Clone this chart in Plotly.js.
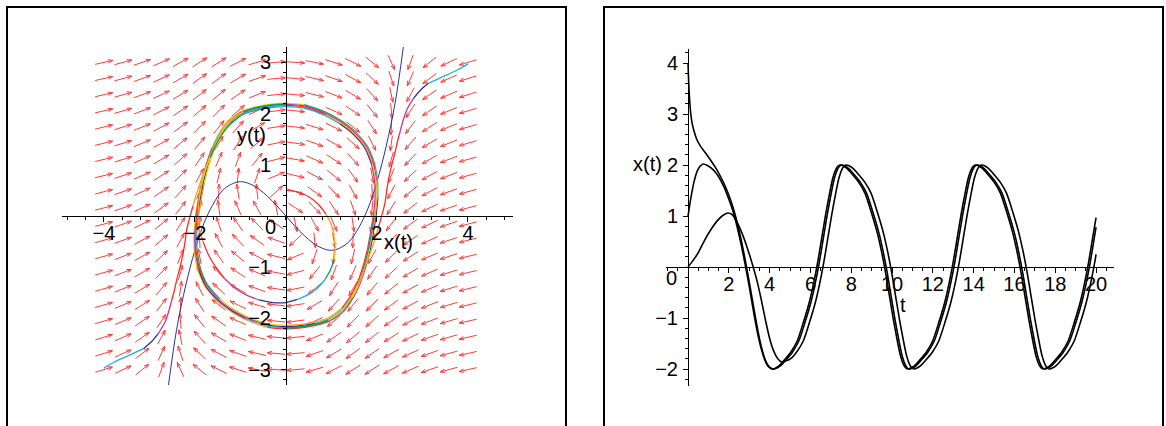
<!DOCTYPE html>
<html><head><meta charset="utf-8">
<script src="https://cdn.plot.ly/plotly-3.0.1.min.js"></script>
<style>html,body{margin:0;padding:0;background:#fff}#chart{width:1166px;height:426px}</style>
</head><body><div id="chart"></div>
<script>
// ---------------- data ----------------
// direction field grid (left panel)
const fieldX = [-4,-3.579,-3.158,-2.737,-2.316,-1.895,-1.474,-1.053,-0.632,-0.211,0.211,0.632,1.053,1.474,1.895,2.316,2.737,3.158,3.579,4];
const fieldY = [3,2.684,2.368,2.053,1.737,1.421,1.105,0.789,0.474,0.158,-0.158,-0.474,-0.789,-1.105,-1.421,-1.737,-2.053,-2.368,-2.684,-3];
// arrow direction (degrees, in grid-cell units), rows = fieldY, columns = fieldX
const fieldAngle = [
[15,18,22,27,33,37,37,31,19,6,355,347,339,330,316,291,253,224,209,200],
[15,18,23,28,34,40,41,35,22,6,354,345,337,328,312,286,249,222,208,200],
[15,19,23,29,36,43,45,39,25,7,354,344,335,325,308,280,245,220,207,200],
[15,19,24,31,39,46,50,45,29,9,353,342,333,321,304,274,241,219,206,199],
[16,20,25,32,41,50,56,53,35,10,352,340,330,317,298,268,237,217,206,199],
[16,20,26,33,44,55,63,62,44,13,350,337,326,313,293,263,234,215,205,199],
[16,20,27,35,47,60,70,73,56,17,348,333,322,308,286,257,231,214,204,198],
[16,21,27,37,50,65,79,85,74,26,344,328,316,301,279,251,228,213,204,198],
[17,21,28,39,53,71,88,98,95,47,338,320,309,294,272,246,225,212,203,198],
[17,22,29,41,57,78,97,110,115,100,322,310,300,286,265,242,223,210,202,197],
[17,22,30,43,62,85,106,120,130,142,280,295,290,277,258,237,221,209,202,197],
[18,23,32,45,66,92,114,129,140,158,227,275,278,268,251,233,219,208,201,197],
[18,24,33,48,71,99,121,136,148,164,206,254,265,259,245,230,217,207,201,196],
[18,24,34,51,77,106,128,142,153,168,197,236,253,250,240,227,215,207,200,196],
[19,25,35,54,83,113,133,146,157,170,193,224,242,243,235,224,213,206,200,196],
[19,26,37,57,88,118,137,150,160,172,190,215,233,236,230,221,212,205,200,196],
[19,26,39,61,94,124,141,153,162,173,189,209,225,230,226,219,211,204,199,195],
[20,27,40,65,100,128,145,155,164,174,187,205,219,225,223,216,209,203,199,195],
[20,28,42,69,106,132,148,157,165,174,186,202,215,221,220,214,208,203,198,195],
[20,29,44,73,111,136,150,159,167,175,186,199,211,217,217,213,207,202,198,195]
];
// limit cycle (phase plane)
const cycleX = [-1.95,-1.89,-1.82,-1.72,-1.60,-1.45,-1.25,-0.95,-0.66,-0.33,0.00,0.40,0.88,1.20,1.47,1.76,1.91,1.98,1.99,1.95,1.89,1.82,1.72,1.60,1.45,1.25,0.95,0.66,0.33,0.00,-0.40,-0.88,-1.20,-1.47,-1.76,-1.91,-1.98,-1.99,-1.95];
const cycleY = [0.00,0.33,0.66,1.00,1.31,1.58,1.83,2.02,2.10,2.15,2.17,2.14,1.99,1.83,1.65,1.35,1.03,0.70,0.35,0.00,-0.33,-0.66,-1.00,-1.31,-1.58,-1.83,-2.02,-2.10,-2.15,-2.17,-2.14,-1.99,-1.83,-1.65,-1.35,-1.03,-0.70,-0.35,0.00];
// trajectory from (4,3)
const trajAX = [4.00,3.79,3.45,3.13,2.95,2.80,2.66,2.58,2.51,2.45,2.40,2.34,2.29,2.25,2.22,2.18,2.12,2.04,1.94,1.82,1.70,1.57,1.42,1.22,0.93,0.64,0.32,0.00];
const trajAY = [2.97,2.86,2.72,2.59,2.45,2.29,2.08,1.88,1.65,1.45,1.25,1.05,0.86,0.68,0.53,0.27,0.05,-0.20,-0.50,-0.80,-1.08,-1.36,-1.62,-1.86,-2.04,-2.12,-2.17,-2.19];
// trajectory from (-4,-3)
const trajBX = [-4.00,-3.79,-3.45,-3.13,-2.95,-2.80,-2.66,-2.58,-2.51,-2.45,-2.40,-2.34,-2.29,-2.25,-2.22,-2.18,-2.12,-2.04,-1.94,-1.82,-1.70,-1.57,-1.42,-1.22,-0.93,-0.64,-0.32,0.00];
const trajBY = [-2.97,-2.86,-2.72,-2.59,-2.45,-2.29,-2.08,-1.88,-1.65,-1.45,-1.25,-1.05,-0.86,-0.68,-0.53,-0.27,-0.05,0.20,0.50,0.80,1.08,1.36,1.62,1.86,2.04,2.12,2.17,2.19];
// inner trajectory from (0,0.5)
const trajCX = [0.00,0.26,0.51,0.72,0.88,0.99,1.06,1.09,1.06,0.98,0.86,0.70,0.50,0.25,0.00,-0.30,-0.59,-0.85,-1.10,-1.35,-1.54,-1.70,-1.82,-1.90,-1.93,-1.91,-1.86,-1.78,-1.66,-1.50,-1.30,-1.00,-0.66,-0.33,0.00];
const trajCY = [0.50,0.47,0.37,0.22,0.04,-0.15,-0.37,-0.60,-0.85,-1.05,-1.24,-1.40,-1.53,-1.63,-1.69,-1.69,-1.64,-1.55,-1.42,-1.22,-1.00,-0.76,-0.50,-0.25,0.00,0.30,0.58,0.86,1.15,1.45,1.72,1.96,2.08,2.14,2.16];
// blue curve
const curveX = [-2.58,-2.4,-2.2,-2.0,-1.8,-1.6,-1.4,-1.2,-1.0,-0.8,-0.6,-0.4,-0.2,0,0.2,0.4,0.6,0.8,1.0,1.2,1.4,1.6,1.8,2.0,2.2,2.4,2.58];
const curveY = [-3.3,-2.21,-1.35,-0.67,-0.14,0.23,0.49,0.62,0.67,0.63,0.53,0.38,0.2,0,-0.2,-0.38,-0.53,-0.63,-0.67,-0.62,-0.49,-0.23,0.14,0.67,1.35,2.21,3.3];

// time series (right panel)
const tA = [0,0.15,0.3,0.45,0.6,0.75,0.95,1.25,1.5,1.75,2.0,2.2,2.4,2.6,2.8,3.0,3.2,3.4,3.6,3.8,3.95,4.15,
4.45,4.75,5.05,5.35,5.65,5.95,6.15,6.35,6.55,6.75,6.95,7.1,7.25,7.35,7.47,
7.77,8.07,8.37,8.67,8.97,9.27,9.47,9.67,9.87,10.07,10.27,10.42,10.57,10.67,10.79,
11.09,11.39,11.69,11.99,12.29,12.59,12.79,12.99,13.19,13.39,13.59,13.74,13.89,13.99,14.11,
14.41,14.71,15.01,15.31,15.61,15.91,16.11,16.31,16.51,16.71,16.91,17.06,17.21,17.31,17.43,
17.73,18.03,18.33,18.63,18.93,19.23,19.43,19.63,19.83,20.0];
const xA = [1.0,1.38,1.68,1.88,1.98,2.02,1.99,1.9,1.77,1.58,1.33,1.1,0.8,0.45,0.05,-0.38,-0.85,-1.28,-1.62,-1.86,-1.96,-2.0,
-1.94,-1.81,-1.66,-1.45,-1.09,-0.68,-0.33,0.08,0.56,1.04,1.47,1.75,1.92,1.98,2.0,
1.94,1.81,1.66,1.45,1.09,0.68,0.33,-0.08,-0.56,-1.04,-1.47,-1.75,-1.92,-1.98,-2.0,
-1.94,-1.81,-1.66,-1.45,-1.09,-0.68,-0.33,0.08,0.56,1.04,1.47,1.75,1.92,1.98,2.0,
1.94,1.81,1.66,1.45,1.09,0.68,0.33,-0.08,-0.56,-1.04,-1.47,-1.75,-1.92,-1.98,-2.0,
-1.94,-1.81,-1.66,-1.45,-1.09,-0.68,-0.33,0.08,0.56,0.97];
const tB = [0,0.02,0.045,0.09,0.135,0.2,0.27,0.43,0.64,0.85,1.1,1.35,1.6,1.85,2.1,2.3,2.5,2.7,2.9,3.1,3.3,3.5,3.7,3.88,4.05,4.23,
4.53,4.83,5.13,5.43,5.73,6.03,6.23,6.43,6.63,6.83,7.03,7.18,7.33,7.43,7.55,
7.85,8.15,8.45,8.75,9.05,9.35,9.55,9.75,9.95,10.15,10.35,10.5,10.65,10.75,10.87,
11.17,11.47,11.77,12.07,12.37,12.67,12.87,13.07,13.27,13.47,13.67,13.82,13.97,14.07,14.19,
14.49,14.79,15.09,15.39,15.69,15.99,16.19,16.39,16.59,16.79,16.99,17.14,17.29,17.39,17.51,
17.81,18.11,18.41,18.71,19.01,19.31,19.51,19.71,19.91,20.0];
const xB = [4.0,3.75,3.5,3.2,3.0,2.82,2.7,2.5,2.35,2.24,2.1,1.95,1.77,1.56,1.3,1.04,0.72,0.35,-0.07,-0.52,-0.98,-1.4,-1.72,-1.9,-1.98,-2.0,
-1.94,-1.81,-1.66,-1.45,-1.09,-0.68,-0.33,0.08,0.56,1.04,1.47,1.75,1.92,1.98,2.0,
1.94,1.81,1.66,1.45,1.09,0.68,0.33,-0.08,-0.56,-1.04,-1.47,-1.75,-1.92,-1.98,-2.0,
-1.94,-1.81,-1.66,-1.45,-1.09,-0.68,-0.33,0.08,0.56,1.04,1.47,1.75,1.92,1.98,2.0,
1.94,1.81,1.66,1.45,1.09,0.68,0.33,-0.08,-0.56,-1.04,-1.47,-1.75,-1.92,-1.98,-2.0,
-1.94,-1.81,-1.66,-1.45,-1.09,-0.68,-0.33,0.08,0.56,0.78];
const tC = [0,0.25,0.5,0.78,1.1,1.42,1.7,1.95,2.15,2.4,2.65,2.9,3.15,3.4,3.6,3.8,4.0,4.2,4.4,4.58,4.8,
5.05,5.35,5.65,5.95,6.25,6.45,6.65,6.85,7.05,7.25,7.4,7.55,7.65,7.77,
8.07,8.37,8.67,8.97,9.27,9.57,9.77,9.97,10.17,10.37,10.57,10.72,10.87,10.97,11.09,
11.39,11.69,11.99,12.29,12.59,12.89,13.09,13.29,13.49,13.69,13.89,14.04,14.19,14.29,14.41,
14.71,15.01,15.31,15.61,15.91,16.21,16.41,16.61,16.81,17.01,17.21,17.36,17.51,17.61,17.73,
18.03,18.33,18.63,18.93,19.23,19.53,19.73,19.93,20.0];
const xC = [0,0.13,0.28,0.5,0.72,0.9,1.01,1.06,1.03,0.88,0.66,0.38,0.06,-0.3,-0.66,-1.05,-1.4,-1.65,-1.8,-1.86,-1.84,
-1.79,-1.65,-1.45,-1.09,-0.68,-0.33,0.08,0.56,1.04,1.47,1.75,1.92,1.98,2.0,
1.94,1.81,1.66,1.45,1.09,0.68,0.33,-0.08,-0.56,-1.04,-1.47,-1.75,-1.92,-1.98,-2.0,
-1.94,-1.81,-1.66,-1.45,-1.09,-0.68,-0.33,0.08,0.56,1.04,1.47,1.75,1.92,1.98,2.0,
1.94,1.81,1.66,1.45,1.09,0.68,0.33,-0.08,-0.56,-1.04,-1.47,-1.75,-1.92,-1.98,-2.0,
-1.94,-1.81,-1.66,-1.45,-1.09,-0.68,-0.33,0.08,0.25];

// tick labels
const leftXTicks = [-4,-2,2,4];
const leftXText = ['\u22124','\u22122','2','4'];
const leftYTicks = [-3,-2,-1,1,2,3];
const leftYText = ['\u22123','\u22122','\u22121','1','2','3'];
const rightXTicks = [2,4,6,8,10,12,14,16,18,20];
const rightXText = ['2','4','6','8','10','12','14','16','18','20'];
const rightYTicks = [-2,-1,1,2,3,4];
const rightYText = ['\u22122','\u22121','1','2','3','4'];

// ---------------- layout helpers ----------------
const W = 1166, H = 426;
const px = p => p / W, py = p => 1 - p / H;
const FONT = 'Liberation Sans, Arial, sans-serif';
const FS = 20;
const LX = [-4.92, 4.99], LY = [-3.3, 3.3];
const LXD = [62, 513], LYD = [385, 47];
const RX = [-1.08, 20.88], RY = [-2.333, 4.275];
const RXD = [666, 1114], RYD = [386, 49];
const SX = (LXD[1]-LXD[0]) / (LX[1]-LX[0]);
const SY = (LYD[0]-LYD[1]) / (LY[1]-LY[0]);
const PAL = ['#ff2a2a','#ff9a1a','#e8d400','#00a651','#1ab0ec','#2e3192','#c0399a'];

const traces = [];

// direction field arrows
(function(){
  const ax = [], ay = [];
  const hx = fieldX[1]-fieldX[0], hy = fieldY[0]-fieldY[1];
  const k = 0.95, head = 5, ang = 20*Math.PI/180;
  for (let j = 0; j < fieldY.length; j++) {
    for (let i = 0; i < fieldX.length; i++) {
      const th = fieldAngle[j][i]*Math.PI/180;
      const vx = k*hx*SX*Math.cos(th), vy = k*hy*SY*Math.sin(th); // px
      const L = Math.hypot(vx, vy), ux = vx/L, uy = vy/L;
      const cx = fieldX[i], cy = fieldY[j];
      const x0 = cx - vx/2/SX, y0 = cy - vy/2/SY;
      const x1 = cx + vx/2/SX, y1 = cy + vy/2/SY;
      ax.push(x0, x1, null); ay.push(y0, y1, null);
      for (const s of [1,-1]) {
        const bx = -(ux*Math.cos(s*ang) - uy*Math.sin(s*ang))*head;
        const by = -(ux*Math.sin(s*ang) + uy*Math.cos(s*ang))*head;
        ax.push(x1, x1 + bx/SX, null); ay.push(y1, y1 + by/SY, null);
      }
    }
  }
  traces.push({x: ax, y: ay, mode: 'lines', line: {color: 'rgb(255,60,60)', width: 1},
    xaxis: 'x', yaxis: 'y', hoverinfo: 'skip', showlegend: false});
})();

function addColored(xs, ys, breaks, startColor, width) {
  for (let b = 0; b < breaks.length - 1; b++) {
    const s = breaks[b], e = Math.min(breaks[b+1], xs.length - 1);
    if (e <= s) continue;
    traces.push({x: xs.slice(s, e+1), y: ys.slice(s, e+1), mode: 'lines',
      line: {color: PAL[(startColor + b) % PAL.length], width: width, shape: 'spline', smoothing: 0.8},
      xaxis: 'x', yaxis: 'y', hoverinfo: 'skip', showlegend: false});
  }
}

// blue curve
traces.push({x: curveX, y: curveY, mode: 'lines', line: {color: '#2e3192', width: 1, shape: 'spline'},
  xaxis: 'x', yaxis: 'y', hoverinfo: 'skip', showlegend: false});

// limit-cycle strips (several overlapping trajectories)
const strips = [
  {f: 1.016, c: 0, br: [0,4,7,11,14,18,22,26,30,34,38]},
  {f: 1.005, c: 3, br: [0,3,6,10,13,17,20,24,28,31,35,38]},
  {f: 0.995, c: 5, br: [0,5,8,12,16,19,23,27,30,34,38]},
  {f: 0.984, c: 1, br: [0,2,6,9,13,16,21,25,29,33,36,38]}
];
strips.forEach(s => addColored(cycleX.map(v => v*s.f), cycleY.map(v => v*s.f), s.br, s.c, 1.2));

addColored(trajAX, trajAY, [0,3,5,8,17,21,24,27], 4, 1.3);
addColored(trajBX, trajBY, [0,3,5,8,17,21,24,27], 4, 1.3);
addColored(trajCX, trajCY, [0,4,6,8,10,13,16,19,22,25,28,31,34], 0, 1.3);

// time series
[[tA,xA],[tB,xB],[tC,xC]].forEach(([t,x]) => traces.push({x: t, y: x, mode: 'lines',
  line: {color: '#000', width: 1.6, shape: 'spline', smoothing: 0.7},
  xaxis: 'x2', yaxis: 'y2', hoverinfo: 'skip', showlegend: false}));

function axis(range, dom, pos, tv, tt, minorD, standoff) {
  return {range: range, domain: dom, anchor: 'free', position: pos,
    showline: true, linecolor: '#000', linewidth: 1, zeroline: false, showgrid: false,
    ticks: 'outside', ticklen: 5, tickwidth: 1, tickcolor: '#000',
    tickmode: 'array', tickvals: tv, ticktext: tt, ticklabelstandoff: standoff,
    tickfont: {family: FONT, size: FS, color: '#000'},
    minor: {tickmode: 'linear', tick0: 0, dtick: minorD, ticks: 'outside', ticklen: 3, tickwidth: 1, tickcolor: '#000', showgrid: false},
    fixedrange: true, layer: 'above traces'};
}

const layout = {
  width: W, height: H, margin: {l: 0, r: 0, t: 0, b: 0},
  paper_bgcolor: '#fff', plot_bgcolor: 'rgba(0,0,0,0)', showlegend: false, hovermode: false,
  xaxis: axis(LX, [px(LXD[0]), px(LXD[1])], py(216), leftXTicks, leftXText, 0.4, -6),
  yaxis: axis(LY, [py(LYD[0]), py(LYD[1])], px(286), leftYTicks, leftYText, 0.2, 6),
  xaxis2: axis(RX, [px(RXD[0]), px(RXD[1])], py(267), rightXTicks, rightXText, 0.5, -6),
  yaxis2: axis(RY, [py(RYD[0]), py(RYD[1])], px(688), rightYTicks, rightYText, 0.2, 1),
  shapes: [
    {type: 'rect', xref: 'paper', yref: 'paper', x0: px(7), x1: px(566), y0: -0.05, y1: py(7), line: {color: '#000', width: 2}},
    {type: 'rect', xref: 'paper', yref: 'paper', x0: px(604), x1: px(1163), y0: -0.05, y1: py(7), line: {color: '#000', width: 2}}
  ],
  annotations: [
    {text: '0', x: px(270), y: py(227)},
    {text: 'x(t)', x: px(398), y: py(242)},
    {text: 'y(t)', x: px(251), y: py(135)},
    {text: '0', x: px(671), y: py(278)},
    {text: 't', x: px(903), y: py(305)},
    {text: 'x(t)', x: px(647), y: py(164)}
  ].map(a => Object.assign({xref: 'paper', yref: 'paper', showarrow: false, xanchor: 'center', yanchor: 'middle',
    font: {family: FONT, size: FS, color: '#000'}}, a))
};

Plotly.newPlot('chart', traces, layout, {staticPlot: true, displayModeBar: false});
</script>
</body></html>
